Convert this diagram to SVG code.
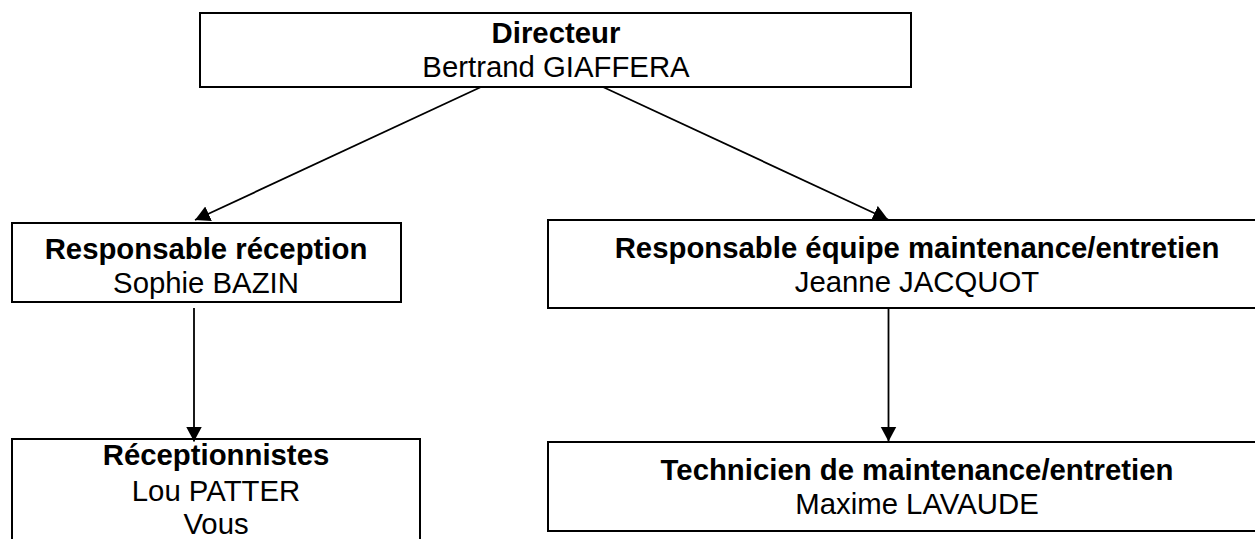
<svg xmlns="http://www.w3.org/2000/svg" width="1255" height="539" viewBox="0 0 1255 539">
<style>
.b{fill:#fff;stroke:#000;stroke-width:2}
text{font-family:"Liberation Sans",Arial,sans-serif;font-size:29.33px;text-anchor:middle;fill:#000}
.t{font-weight:bold}
.c{stroke:#000;stroke-width:1.8;fill:none;marker-end:url(#a)}
</style>
<defs><marker id="a" markerUnits="userSpaceOnUse" markerWidth="18" markerHeight="18" refX="15" refY="8" orient="auto"><path d="M0 0L15 8L0 16Z" fill="#000"/></marker></defs>
<rect width="1255" height="539" fill="#fff"/>
<g id="n1"><rect class="b" x="200" y="13" width="711" height="74"/><text class="t" x="556" y="43">Directeur</text><text x="556" y="77">Bertrand GIAFFERA</text></g>
<g id="n2"><rect class="b" x="12" y="223" width="389" height="79"/><text class="t" x="206" y="259">Responsable réception</text><text x="206" y="293">Sophie BAZIN</text></g>
<g id="n3"><rect class="b" x="548" y="220" width="720" height="88"/><text class="t" x="917" y="258">Responsable équipe maintenance/entretien</text><text x="917" y="292">Jeanne JACQUOT</text></g>
<g id="n4"><rect class="b" x="12" y="439" width="408" height="110"/><text class="t" x="216" y="465">Réceptionnistes</text><text x="216" y="501">Lou PATTER</text><text x="216" y="534">Vous</text></g>
<g id="n5"><rect class="b" x="548" y="442" width="720" height="89"/><text class="t" x="917" y="480">Technicien de maintenance/entretien</text><text x="917" y="513.5">Maxime LAVAUDE</text></g>
<g id="connectors">
<path class="c" d="M481 87L195 220"/>
<path class="c" d="M603 87L888 219.5"/>
<path class="c" d="M194 308V441.5"/>
<path class="c" d="M888.5 308V441.5"/>
</g>
</svg>
